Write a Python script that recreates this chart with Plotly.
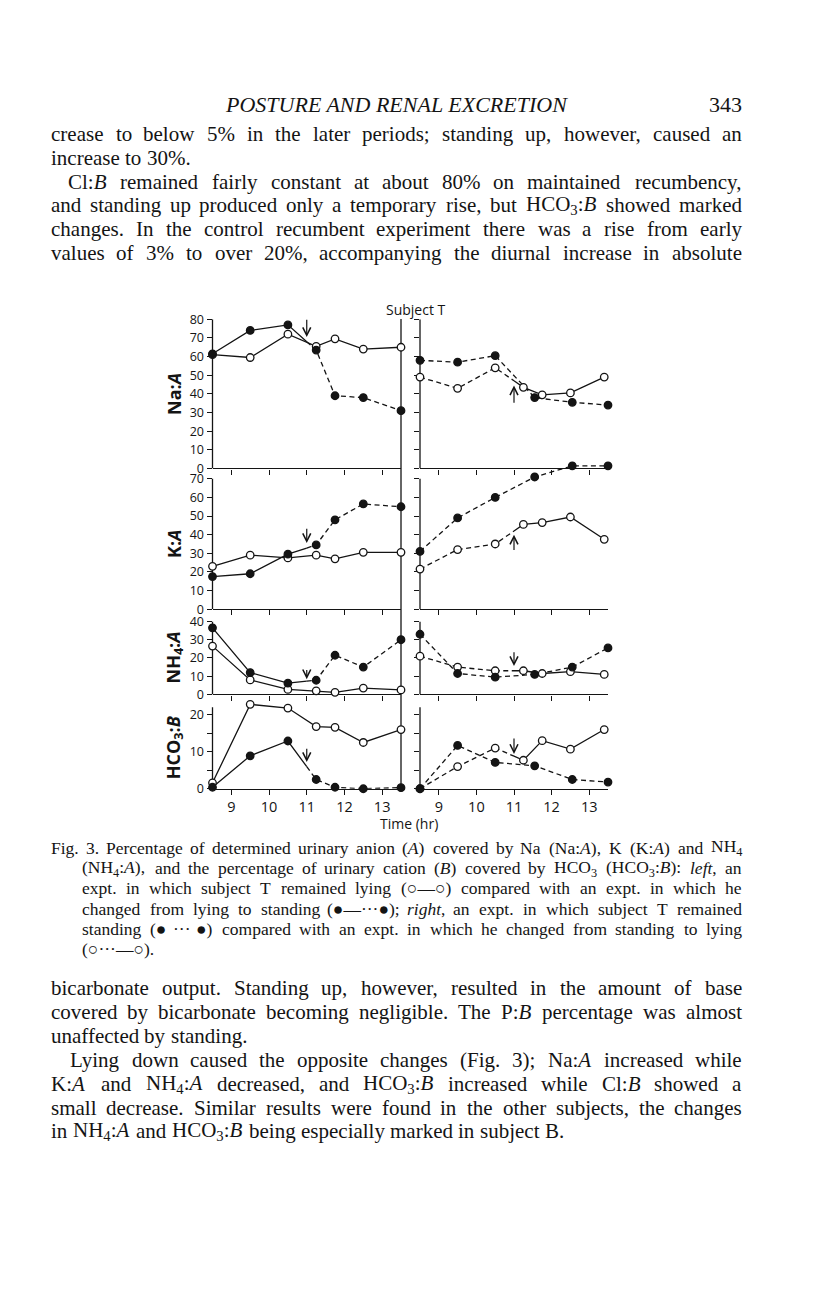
import re
import numpy as np
import plotly.graph_objects as go

W, H = 816, 1296

# ---------------- data ----------------
t_left = [8.5, 9.5, 10.5, 11.25, 11.75, 12.5, 13.5]
t_right_open = [8.5, 9.5, 10.5, 11.25, 11.75, 12.5, 13.4]
t_right_fill = [8.5, 9.5, 10.5, 11.55, 12.55, 13.5]
posture_change_t = 11.0

na_left_open = [61, 59.5, 72, 65.5, 69.5, 64, 65]
na_left_fill = [61.5, 74, 77, 63.5, 39, 38, 31]
na_right_open = [49, 43, 54, 43.5, 39.5, 40.5, 49]
na_right_fill = [58, 57, 60.5, 38, 35.5, 34]

k_left_open = [23, 29, 27.5, 29, 27, 30.5, 30.5]
k_left_fill = [17.5, 19, 29.5, 34.5, 48, 56.5, 55]
k_right_open = [21.5, 32, 35, 45.5, 46.5, 49.5, 37.5]
k_right_fill = [31, 49, 60, 71, 77, 77]

nh4_left_open = [26.5, 8, 2.8, 2, 1.2, 3.5, 2.5]
nh4_left_fill = [36.5, 12, 6.2, 7.8, 21.5, 15, 30]
nh4_right_open = [21, 15, 13, 13, 11.5, 12.5, 11]
nh4_right_fill = [33, 11.5, 9.5, 11, 15, 25.5]

hco3_left_open = [1.6, 22.8, 21.8, 16.8, 16.6, 12.5, 16]
hco3_left_fill = [0.4, 8.9, 12.9, 2.5, 0.4, 0.0, 0.3]
hco3_right_open = [0.0, 6.0, 11.0, 7.7, 13.0, 10.7, 16.0]
hco3_right_fill = [0.0, 11.7, 7.1, 6.2, 2.5, 1.8]

x_ticks = [9, 10, 11, 12, 13]
na_ticks = list(range(0, 81, 10))
k_ticks = list(range(0, 71, 10))
nh4_ticks = list(range(0, 41, 10))
hco3_ticks = [0, 5, 10, 15, 20]
hco3_ticktext = ['0', '', '10', '', '20']
row_titles = ['Na:<i>A</i>', 'K:<i>A</i>', 'NH<sub>4</sub>:<i>A</i>', 'HCO<sub>3</sub>:<i>B</i>']

# arrows (tail value, tip value) marking the change of posture
na_arrows = [(80.5, 70.5), (34.5, 44.5)]
k_arrows = [(44.0, 35.5), (31.0, 40.0)]
nh4_arrows = [(14.3, 8.4), (24.0, 15.6)]
hco3_arrows = [(11.2, 7.2), (14.0, 9.4)]

# ---------------- page text ----------------
header_text = '<i>POSTURE AND RENAL EXCRETION</i>'
page_number = '343'
top_lines = [
    ("crease to below 5% in the later periods; standing up, however, caused an", True, 0),
    ("increase to 30%.", False, 0),
    ("Cl:<i>B</i> remained fairly constant at about 80% on maintained recumbency,", True, 1),
    ("and standing up produced only a temporary rise, but HCO<sub>3</sub>:<i>B</i> showed marked", True, 0),
    ("changes.  In the control recumbent experiment there was a rise from early", True, 0),
    ("values of 3% to over 20%, accompanying the diurnal increase in absolute", True, 0),
]
caption_lines = [
    ("Fig. 3.  Percentage of determined urinary anion (<i>A</i>) covered by Na (Na:<i>A</i>), K (K:<i>A</i>) and NH<sub>4</sub>", True, 0),
    ("(NH<sub>4</sub>:<i>A</i>), and the percentage of urinary cation (<i>B</i>) covered by HCO<sub>3</sub> (HCO<sub>3</sub>:<i>B</i>): <i>left</i>, an", True, 1),
    ("expt. in which subject T remained lying (○—○) compared with an expt. in which he", True, 1),
    ("changed from lying to standing (●—···●); <i>right</i>, an expt. in which subject T remained", True, 1),
    ("standing (● ··· ●) compared with an expt. in which he changed from standing to lying", True, 1),
    ("(○···—○).", False, 1),
]
low_lines = [
    ("bicarbonate output.  Standing up, however, resulted in the amount of base", True, 0),
    ("covered by bicarbonate becoming negligible.  The P:<i>B</i> percentage was almost", True, 0),
    ("unaffected by standing.", False, 0),
    ("Lying down caused the opposite changes (Fig. 3); Na:<i>A</i> increased while", True, 1),
    ("K:<i>A</i> and NH<sub>4</sub>:<i>A</i> decreased, and HCO<sub>3</sub>:<i>B</i> increased while Cl:<i>B</i> showed a", True, 0),
    ("small decrease.  Similar results were found in the other subjects, the changes", True, 0),
    ("in NH<sub>4</sub>:<i>A</i> and HCO<sub>3</sub>:<i>B</i> being especially marked in subject B.", False, 0),
]

INK = '#141414'
SANS = 'Open Sans'
SERIF = 'Liberation Serif'

# ---------------- geometry ----------------
LX = (204.5, 393.0)
RX = (412.0, 600.0)
rows = [
    dict(title=row_titles[0], tickvals=na_ticks, ticktext=[str(v) for v in na_ticks],
         bottom=457.5, ppu=1.89, vmax=80, axis_top=80, title_y=382,
         series=[(t_left, na_left_open, 'open', 0, 'solid'),
                 (t_left, na_left_fill, 'fill', 0, 'solid_dash'),
                 (t_right_open, na_right_open, 'open', 1, 'dash_solid'),
                 (t_right_fill, na_right_fill, 'fill', 1, 'dash')],
         arrows=na_arrows),
    dict(title=row_titles[1], tickvals=k_ticks, ticktext=[str(v) for v in k_ticks],
         bottom=600.0, ppu=1.886, vmax=78, axis_top=70, title_y=534,
         series=[(t_left, k_left_open, 'open', 0, 'solid'),
                 (t_left, k_left_fill, 'fill', 0, 'solid_dash'),
                 (t_right_open, k_right_open, 'open', 1, 'dash_solid'),
                 (t_right_fill, k_right_fill, 'fill', 1, 'dash')],
         arrows=k_arrows),
    dict(title=row_titles[2], tickvals=nh4_ticks, ticktext=[str(v) for v in nh4_ticks],
         bottom=686.5, ppu=1.85, vmax=40, axis_top=40, title_y=649,
         series=[(t_left, nh4_left_open, 'open', 0, 'solid'),
                 (t_left, nh4_left_fill, 'fill', 0, 'solid_dash'),
                 (t_right_open, nh4_right_open, 'open', 1, 'dash_solid'),
                 (t_right_fill, nh4_right_fill, 'fill', 1, 'dash')],
         arrows=nh4_arrows),
    dict(title=row_titles[3], tickvals=hco3_ticks, ticktext=hco3_ticktext,
         bottom=782.0, ppu=3.75, vmax=23.2, axis_top=22, title_y=741,
         series=[(t_left, hco3_left_open, 'open', 0, 'solid'),
                 (t_left, hco3_left_fill, 'fill', 0, 'solid_dash'),
                 (t_right_open, hco3_right_open, 'open', 1, 'dash_solid'),
                 (t_right_fill, hco3_right_fill, 'fill', 1, 'dash')],
         arrows=hco3_arrows),
]

fig = go.Figure()
annotations = []
shapes = []
layout = dict(width=W, height=H, margin=dict(l=0, r=0, t=0, b=0),
              paper_bgcolor='white', plot_bgcolor='rgba(0,0,0,0)', showlegend=False)


def px_x(p):
    return p / W


def px_y(p):
    return 1 - p / H


def split_at(t, v, tc):
    t = np.asarray(t, float)
    v = np.asarray(v, float)
    vc = float(np.interp(tc, t, v))
    b = (list(t[t < tc]) + [tc], list(v[t < tc]) + [vc])
    a = ([tc] + list(t[t > tc]), [vc] + list(v[t > tc]))
    return b, a


DASH = '5px,3.5px'

for i, row in enumerate(rows):
    for j in (0, 1):
        idx = 2 * i + j + 1
        xn = 'x' if idx == 1 else f'x{idx}'
        yn = 'y' if idx == 1 else f'y{idx}'
        xk = 'xaxis' if idx == 1 else f'xaxis{idx}'
        yk = 'yaxis' if idx == 1 else f'yaxis{idx}'
        xr = LX if j == 0 else RX
        top_px = row['bottom'] - row['vmax'] * row['ppu']
        layout[xk] = dict(domain=[px_x(xr[0]), px_x(xr[1])], range=[8.5, 13.5], anchor=yn,
                          showline=True, linecolor=INK, linewidth=1.3, ticks='outside',
                          ticklen=5, tickwidth=1.2, tickcolor=INK, tickvals=x_ticks,
                          ticktext=[str(v) for v in x_ticks], showticklabels=(i == 3),
                          tickfont=dict(family=SANS, size=14.5, color=INK), showgrid=False,
                          zeroline=False, layer='below traces', fixedrange=True)
        layout[yk] = dict(domain=[px_y(row['bottom']), px_y(top_px)], range=[0, row['vmax']],
                          anchor=xn, showline=False, ticks='outside', ticklen=5, tickwidth=1.2,
                          tickcolor=INK, tickvals=row['tickvals'], ticktext=row['ticktext'],
                          showticklabels=(j == 0), tickfont=dict(family=SANS, size=12.5, color=INK),
                          showgrid=False, zeroline=False, layer='below traces', fixedrange=True)
        shapes.append(dict(type='line', xref=f'{xn} domain', yref=yn, x0=0, x1=0, y0=0,
                           y1=row['axis_top'], line=dict(color=INK, width=1.3), layer='below'))
        tail, tip = row['arrows'][j]
        annotations.append(dict(x=posture_change_t, y=tip, ax=posture_change_t, ay=tail,
                                xref=xn, yref=yn, axref=xn, ayref=yn, showarrow=True, text='',
                                arrowhead=5, arrowsize=1.3, arrowwidth=1.2, arrowcolor=INK,
                                standoff=0, startstandoff=0))
        # lines
        for (t, v, kind, side, style) in row['series']:
            if side != j:
                continue
            if style == 'solid':
                segs = [((t, v), False)]
            elif style == 'dash':
                segs = [((t, v), True)]
            else:
                b, a = split_at(t, v, posture_change_t)
                segs = [(b, False), (a, True)] if style == 'solid_dash' else [(b, True), (a, False)]
            for (st, sv), dashed in segs:
                fig.add_trace(go.Scatter(x=list(st), y=list(sv), mode='lines', xaxis=xn, yaxis=yn,
                                         line=dict(color=INK, width=1.3, dash=DASH if dashed else 'solid'),
                                         hoverinfo='skip', showlegend=False, cliponaxis=False))
        for (t, v, kind, side, style) in row['series']:
            if side != j:
                continue
            fig.add_trace(go.Scatter(x=t, y=v, mode='markers', xaxis=xn, yaxis=yn,
                                     marker=dict(size=7.5, symbol='circle',
                                                 color=INK if kind == 'fill' else 'white',
                                                 line=dict(color=INK, width=1.3)),
                                     hoverinfo='skip', showlegend=False, cliponaxis=False))
    annotations.append(dict(x=px_x(166), y=px_y(row['title_y']), xref='paper', yref='paper',
                            text='<b>' + row['title'] + '</b>', textangle=-90, showarrow=False,
                            xanchor='center', yanchor='middle',
                            font=dict(family=SANS, size=18, color=INK)))

# divider / right frame of the left column
shapes.append(dict(type='line', xref='paper', yref='paper', x0=px_x(393), x1=px_x(393),
                   y0=px_y(306), y1=px_y(782), line=dict(color=INK, width=1.3), layer='below'))

annotations.append(dict(x=px_x(408), y=px_y(296), xref='paper', yref='paper', text='Subject T',
                        showarrow=False, xanchor='center', yanchor='middle',
                        font=dict(family=SANS, size=14, color=INK)))
annotations.append(dict(x=px_x(401), y=px_y(817), xref='paper', yref='paper', text='Time (hr)',
                        showarrow=False, xanchor='center', yanchor='middle',
                        font=dict(family=SANS, size=14, color=INK)))

# ---------------- justified page text ----------------
TIMES = {' ': 250, '!': 333, '%': 833, "'": 333, '(': 333, ')': 333, ',': 250, '-': 333,
         '.': 250, '/': 278, ':': 278, ';': 278, '?': 444, '—': 1000, '·': 250, '○': 600, '●': 600,
         'A': 722, 'B': 667, 'C': 667, 'D': 722, 'E': 611, 'F': 556, 'G': 722, 'H': 722, 'I': 333,
         'J': 389, 'K': 722, 'L': 611, 'M': 889, 'N': 722, 'O': 722, 'P': 556, 'Q': 722, 'R': 667,
         'S': 556, 'T': 611, 'U': 722, 'V': 722, 'W': 944, 'X': 722, 'Y': 722, 'Z': 611,
         'a': 444, 'b': 500, 'c': 444, 'd': 500, 'e': 444, 'f': 333, 'g': 500, 'h': 500, 'i': 278,
         'j': 278, 'k': 500, 'l': 278, 'm': 778, 'n': 500, 'o': 500, 'p': 500, 'q': 500, 'r': 333,
         's': 389, 't': 278, 'u': 500, 'v': 500, 'w': 722, 'x': 500, 'y': 500, 'z': 444}


def raw_w(s):
    return sum(TIMES.get(c, 500) for c in s)


def word_em(markup):
    total, pos = 0.0, 0
    for m in re.finditer(r'<sub>(.*?)</sub>', markup):
        total += raw_w(re.sub(r'</?i>', '', markup[pos:m.start()]))
        total += 0.7 * raw_w(re.sub(r'</?i>', '', m.group(1)))
        pos = m.end()
    total += raw_w(re.sub(r'</?i>', '', markup[pos:]))
    return total / 1000.0


def text_block(lines, ys, x_left, x_right, fs_target, indent_px):
    fs = fs_target
    for text, just, ind in lines:
        words = text.split()
        if just and len(words) > 1:
            em = sum(word_em(w) for w in words) + (len(words) - 1) * 0.17
            fs = min(fs, (x_right - x_left - ind * indent_px) / em)
    for (text, just, ind), y in zip(lines, ys):
        words = text.split()
        ws = [word_em(w) * fs for w in words]
        x0 = x_left + ind * indent_px
        n = len(words)
        gap = (x_right - x0 - sum(ws)) / (n - 1) if (just and n > 1) else 0.25 * fs
        x = x0
        for k, (w, wd) in enumerate(zip(words, ws)):
            if just and n > 1 and k == n - 1:
                ax, anc = x_right, 'right'
            elif k == 0:
                ax, anc = x, 'left'
            else:
                ax, anc = x + wd / 2, 'center'
            annotations.append(dict(x=px_x(ax), y=px_y(y), xref='paper', yref='paper', text=w,
                                    showarrow=False, xanchor=anc, yanchor='middle',
                                    borderpad=0, borderwidth=0,
                                    font=dict(family=SERIF, size=fs, color=INK)))
            x += wd + gap


TXL, TXR = 43.0, 734.0
annotations.append(dict(x=px_x((TXL + TXR) / 2), y=px_y(89), xref='paper', yref='paper',
                        text=header_text, showarrow=False, xanchor='center', yanchor='middle',
                        font=dict(family=SERIF, size=22, color=INK)))
annotations.append(dict(x=px_x(TXR), y=px_y(89), xref='paper', yref='paper', text=page_number,
                        showarrow=False, xanchor='right', yanchor='middle', borderpad=0, borderwidth=0,
                        font=dict(family=SERIF, size=22, color=INK)))
text_block(top_lines, [119 + 24.0 * k for k in range(len(top_lines))], TXL, TXR, 21, 17)
text_block(caption_lines, [842 + 20.5 * k for k in range(len(caption_lines))], TXL, TXR, 17.5, 31)
text_block(low_lines, [984 + 24.2 * k for k in range(len(low_lines))], TXL, TXR, 21, 19)

layout['annotations'] = annotations
layout['shapes'] = shapes
fig.update_layout(**layout)
fig.write_html('out.html')
